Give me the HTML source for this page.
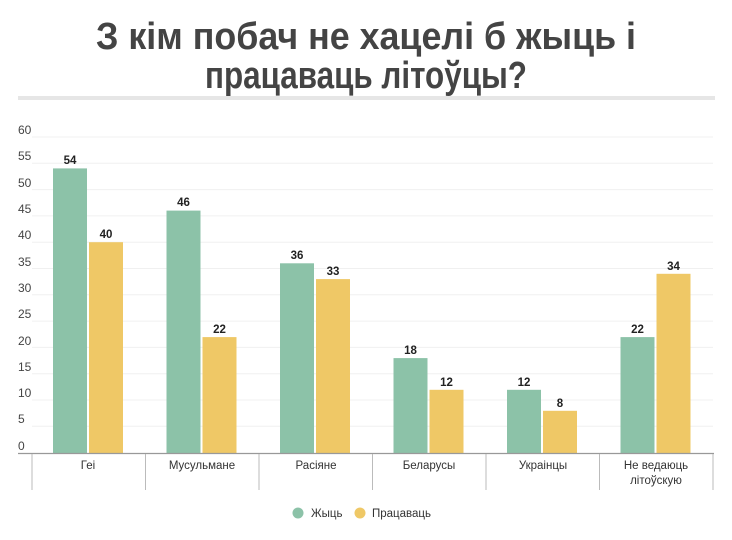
<!DOCTYPE html>
<html><head><meta charset="utf-8"><style>
body{margin:0;background:#fff;}
svg{display:block;font-family:"Liberation Sans",sans-serif;}
</style></head><body>
<svg width="732" height="540" viewBox="0 0 732 540" xmlns="http://www.w3.org/2000/svg">
<rect width="732" height="540" fill="#fff"/>
<g fill="#444" font-weight="bold" font-size="38" text-anchor="middle">
<text x="366" y="49" textLength="540" lengthAdjust="spacingAndGlyphs">З кім побач не хацелі б жыць і</text>
<text x="366" y="88" textLength="322" lengthAdjust="spacingAndGlyphs">працаваць літоўцы?</text>
</g>
<rect x="18" y="96" width="697" height="4" fill="#e6e6e6"/>
<g stroke="#f0f0f0" stroke-width="1">
<line x1="32" x2="713" y1="137" y2="137"/><line x1="32" x2="713" y1="163.3" y2="163.3"/>
<line x1="32" x2="713" y1="189.6" y2="189.6"/><line x1="32" x2="713" y1="215.9" y2="215.9"/>
<line x1="32" x2="713" y1="242.2" y2="242.2"/><line x1="32" x2="713" y1="268.5" y2="268.5"/>
<line x1="32" x2="713" y1="294.8" y2="294.8"/><line x1="32" x2="713" y1="321.1" y2="321.1"/>
<line x1="32" x2="713" y1="347.4" y2="347.4"/><line x1="32" x2="713" y1="373.7" y2="373.7"/>
<line x1="32" x2="713" y1="400" y2="400"/><line x1="32" x2="713" y1="426.3" y2="426.3"/>
</g>
<g fill="#444" font-size="12">
<text x="18" y="134">60</text><text x="18" y="160">55</text><text x="18" y="187">50</text>
<text x="18" y="213">45</text><text x="18" y="239">40</text><text x="18" y="266">35</text>
<text x="18" y="292">30</text><text x="18" y="318">25</text><text x="18" y="345">20</text>
<text x="18" y="371">15</text><text x="18" y="397">10</text><text x="18" y="423">5</text>
<text x="18" y="450">0</text>
</g>
<g fill="#8cc2a8">
<rect x="53" y="168.4" width="34" height="284.6"/>
<rect x="166.5" y="210.6" width="34" height="242.4"/>
<rect x="280" y="263.3" width="34" height="189.7"/>
<rect x="393.5" y="358.1" width="34" height="94.9"/>
<rect x="507" y="389.8" width="34" height="63.2"/>
<rect x="620.5" y="337.1" width="34" height="115.9"/>
</g>
<g fill="#efc866">
<rect x="89" y="242.2" width="34" height="210.8"/>
<rect x="202.5" y="337.1" width="34" height="115.9"/>
<rect x="316" y="279.1" width="34" height="173.9"/>
<rect x="429.5" y="389.8" width="34" height="63.2"/>
<rect x="543" y="410.8" width="34" height="42.2"/>
<rect x="656.5" y="273.8" width="34" height="179.2"/>
</g>
<g fill="#222" font-size="11.5" font-weight="bold" text-anchor="middle">
<text x="70" y="164">54</text><text x="106" y="238">40</text>
<text x="183.5" y="206">46</text><text x="219.5" y="333">22</text>
<text x="297" y="259">36</text><text x="333" y="275">33</text>
<text x="410.5" y="354">18</text><text x="446.5" y="386">12</text>
<text x="524" y="386">12</text><text x="560" y="407">8</text>
<text x="637.5" y="333">22</text><text x="673.5" y="270">34</text>
</g>
<line x1="18" x2="714" y1="453.5" y2="453.5" stroke="#999" stroke-width="1.2"/>
<g stroke="#bbb" stroke-width="1">
<line x1="32" x2="32" y1="454" y2="490"/><line x1="145.5" x2="145.5" y1="454" y2="490"/>
<line x1="259" x2="259" y1="454" y2="490"/><line x1="372.5" x2="372.5" y1="454" y2="490"/>
<line x1="486" x2="486" y1="454" y2="490"/><line x1="599.5" x2="599.5" y1="454" y2="490"/>
<line x1="713" x2="713" y1="454" y2="490"/>
</g>
<g fill="#333" font-size="11.5" text-anchor="middle">
<text x="88" y="469">Геі</text><text x="202" y="469">Мусульмане</text>
<text x="316" y="469">Расіяне</text><text x="429" y="469">Беларусы</text>
<text x="543" y="469">Украінцы</text><text x="656" y="469">Не ведаюць</text>
<text x="656" y="484">літоўскую</text>
</g>
<circle cx="298" cy="513" r="5.5" fill="#8cc2a8"/>
<text x="311" y="517" font-size="11.5" fill="#333">Жыць</text>
<circle cx="360" cy="513" r="5.5" fill="#efc866"/>
<text x="372" y="517" font-size="11.5" fill="#333">Працаваць</text>
</svg>
</body></html>
